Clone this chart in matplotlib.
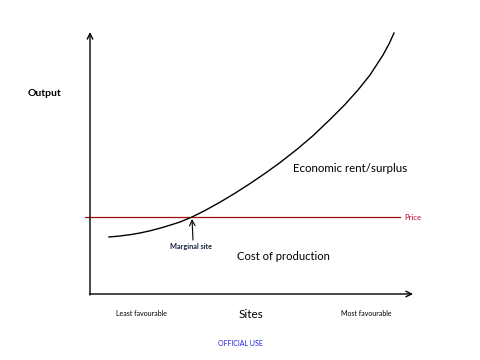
import matplotlib
matplotlib.use("Agg")
import matplotlib.pyplot as plt

plt.rcParams['font.family'] = ['Lato', 'DejaVu Sans']

# curve (pixel-like coords, y grows downward)
curve_x = [109, 120, 130, 140, 150, 160, 170, 180, 192, 205, 220, 235, 250, 265, 280,
           297, 313, 330, 345, 358, 370, 383, 389, 394]
curve_y = [237, 236, 234.7, 233, 230.8, 228.2, 225.2, 222, 217, 210.5, 202.2, 193.2, 183.6,
           173.4, 162.6, 149.3, 135.7, 119.5, 104.5, 90, 75, 55, 44, 33]

price_y = 217
price_x = [85, 400]

axis_origin = (90, 294)
axis_top = 32
axis_right = 413

fig = plt.figure(figsize=(4.8, 3.6), dpi=100)
ax = fig.add_axes([0, 0, 1, 1])
ax.set_xlim(0, 480)
ax.set_ylim(360, 0)
ax.axis('off')

# axes arrows
ax.annotate('', xy=(axis_origin[0], axis_top), xytext=(axis_origin[0], axis_origin[1] + 1),
            arrowprops=dict(arrowstyle='->', lw=1.0, color='black', shrinkA=0, shrinkB=0))
ax.annotate('', xy=(axis_right, axis_origin[1]), xytext=(axis_origin[0] - 0.5, axis_origin[1]),
            arrowprops=dict(arrowstyle='->', lw=1.0, color='black', shrinkA=0, shrinkB=0))

# price line
ax.plot(price_x, [price_y, price_y], color='#a01010', lw=0.9)
ax.text(404, price_y, 'Price', color='#c00020', fontsize=5.5, va='center', ha='left')

# curve
ax.plot(curve_x, curve_y, color='black', lw=1.0, solid_joinstyle='round')

# marginal site arrow
ax.annotate('', xy=(192, 219), xytext=(193, 240),
            arrowprops=dict(arrowstyle='->', lw=0.8, color='black', shrinkA=0, shrinkB=0))
ax.text(191.5, 246, 'Marginal site', fontsize=5.2, fontweight='bold', ha='center', va='center',
        color='#1a2240')

ax.text(293, 168, 'Economic rent/surplus', fontsize=8.3, ha='left', va='center')
ax.text(237, 256, 'Cost of production', fontsize=8.1, ha='left', va='center')
ax.text(44, 94, 'Output', fontsize=7.5, fontweight='bold', ha='center', va='center')
ax.text(251, 314, 'Sites', fontsize=8.5, ha='center', va='center')
ax.text(142, 314, 'Least favourable', fontsize=5, ha='center', va='center')
ax.text(366, 314, 'Most favourable', fontsize=5, ha='center', va='center')
ax.text(240, 343, 'OFFICIAL USE', fontsize=5, ha='center', va='center', color='#2020e0')

fig.savefig('out.png', dpi=100)
